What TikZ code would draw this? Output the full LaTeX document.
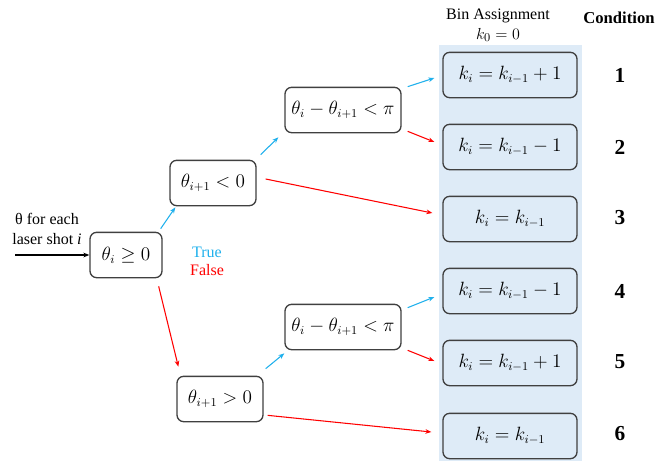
\documentclass[tikz,border=0pt]{standalone}
\usepackage{fontspec}
\setmainfont{Liberation Serif}
\usetikzlibrary{arrows.meta}
\definecolor{bgblue}{HTML}{DEEBF7}
\definecolor{tblue}{HTML}{1FB0EC}
\definecolor{fred}{HTML}{FF0000}
\definecolor{edge}{HTML}{404040}
\tikzset{
  box/.style={draw=edge, line width=1pt, rounded corners=5pt, fill=white, inner sep=0pt, minimum height=34pt, font=\fontsize{13.5}{15}\selectfont},
  kbox/.style={box, fill=bgblue, minimum width=100.5pt},
  tarr/.style={draw=tblue, line width=0.8pt, -{Stealth[length=4.5pt,width=3.5pt]}},
  farr/.style={draw=fred, line width=0.8pt, -{Stealth[length=4.5pt,width=3.5pt]}},
  cond/.style={font=\bfseries\fontsize{16}{18}\selectfont},
  lbl/.style={font=\fontsize{12}{14}\selectfont, inner sep=0pt}
}
\begin{document}
\begin{tikzpicture}[x=0.75pt,y=-0.75pt]
\useasboundingbox (0,0) rectangle (656,461);
\fill[bgblue] (439,45) rectangle (582,461);
% header
\node[lbl] (hbin) at (498,16) {Bin Assignment};
\node[lbl, font=\fontsize{13}{15}\selectfont] (hk) at (498,35) {$k_0 = 0$};
\node[lbl, font=\bfseries\fontsize{12.5}{14}\selectfont] (hcond) at (619,18) {Condition};
% left inputs
\node[lbl] (t1) at (47,219) {θ for each};
\node[lbl] (t2) at (47,239) {laser shot \textit{i}};
\coordinate (in) at (15,255);
% decision nodes
\node[box, minimum width=54pt] (s0) at (126,255) {$\theta_i \geq 0$};
\node[box, minimum width=64.5pt] (n1) at (213,183) {$\theta_{i+1} < 0$};
\node[box, minimum width=87pt] (tp) at (343,110) {$\theta_i - \theta_{i+1} < \pi$};
\node[box, minimum width=64.5pt] (b1) at (220,399) {$\theta_{i+1} > 0$};
\node[box, minimum width=87pt] (bp) at (343,327) {$\theta_i - \theta_{i+1} < \pi$};
% result nodes
\node[kbox] (r1) at (510,75) {$k_i = k_{i-1} + 1$};
\node[kbox] (r2) at (510,147) {$k_i = k_{i-1} - 1$};
\node[kbox] (r3) at (510,219) {$k_i = k_{i-1}$};
\node[kbox] (r4) at (510,291) {$k_i = k_{i-1} - 1$};
\node[kbox] (r5) at (510,363) {$k_i = k_{i-1} + 1$};
\node[kbox] (r6) at (510,436) {$k_i = k_{i-1}$};
% conditions
\node[cond] (c1) at (620,75) {1};
\node[cond] (c2) at (620,147) {2};
\node[cond] (c3) at (620,218) {3};
\node[cond] (c4) at (620,291) {4};
\node[cond] (c5) at (620,362) {5};
\node[cond] (c6) at (620,434) {6};
% legend
\node[lbl, text=tblue] (ltrue) at (207,252) {True};
\node[lbl, text=fred] (lfalse) at (207,270) {False};
% connectors
\draw[line width=0.8pt, -{Stealth[length=4.5pt,width=3.5pt]}] (in) -- (s0.west);
\draw[tarr] ([shift={(-2,-3)}]s0.north east) -- ([shift={(6,1)}]n1.south west);
\draw[farr] ([shift={(-4,8)}]s0.south east) -- ([shift={(2,-9)}]b1.north west);
\draw[tarr] ([shift={(4,-5)}]n1.north east) -- ([shift={(-6,4)}]tp.south west);
\draw[farr] ([shift={(9,-4)}]n1.east) -- ([shift={(-10,-6)}]r3.west);
\draw[tarr] ([shift={(6,0)}]tp.north east) -- ([shift={(-8,3)}]r1.west);
\draw[farr] ([shift={(6,-2)}]tp.south east) -- ([shift={(-8,-5)}]r2.west);
\draw[tarr] ([shift={(2,-7)}]b1.north east) -- ([shift={(0,3)}]bp.south west);
\draw[farr] ([shift={(4,-7)}]b1.south east) -- ([shift={(-11,-4)}]r6.west);
\draw[tarr] ([shift={(6,4)}]bp.north east) -- ([shift={(-8,6)}]r4.west);
\draw[farr] ([shift={(6,0)}]bp.south east) -- ([shift={(-8,-2)}]r5.west);
\end{tikzpicture}
\end{document}
